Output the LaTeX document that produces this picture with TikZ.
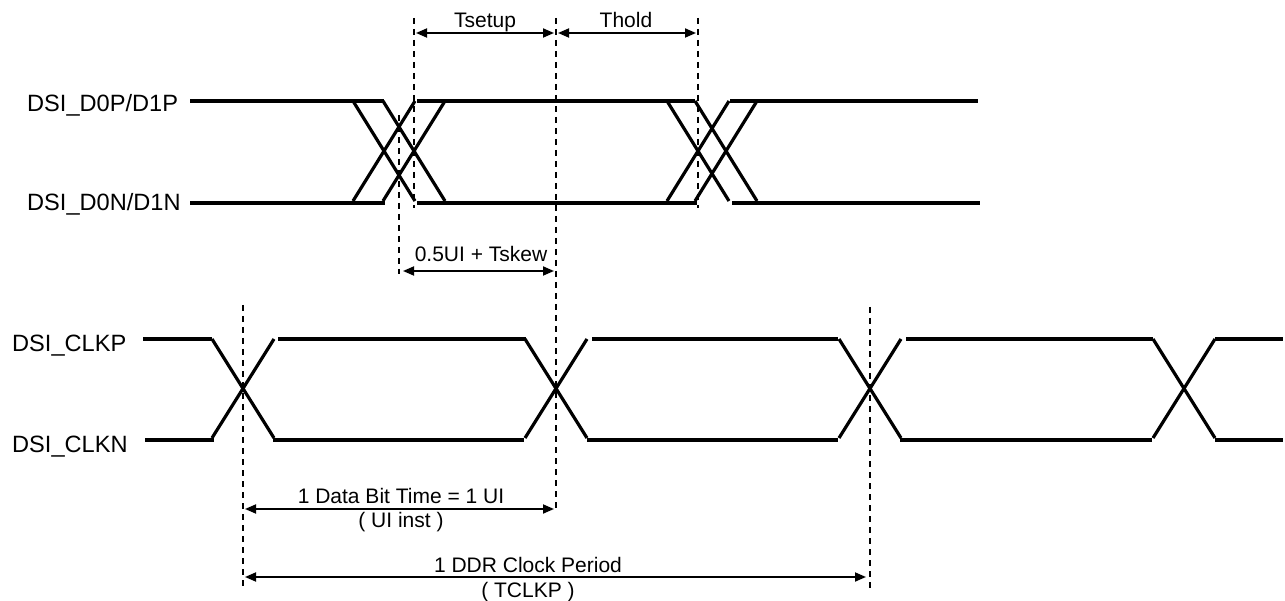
\documentclass[tikz,border=0pt]{standalone}
\usepackage{fontspec}
\setmainfont{Liberation Sans}
\usetikzlibrary{arrows.meta}
\begin{document}
\begin{tikzpicture}[x=1pt,y=-1pt,
  sigline/.style={line width=3.2pt,line cap=butt,line join=miter},
  guideline/.style={line width=1.4pt,dash pattern=on 6pt off 5pt},
  dimarrow/.style={line width=1.8pt,{Triangle[length=11pt,width=9pt]}-{Triangle[length=11pt,width=9pt]},shorten <=2pt,shorten >=2pt},
  signame/.style={font=\fontsize{23.6}{28}\selectfont,anchor=base west,inner sep=0pt},
  annot/.style={font=\fontsize{21}{25}\selectfont,anchor=base,inner sep=0pt}]
\useasboundingbox (0,0) rectangle (1285,601);
% signal names
\node[signame] (dp) at (27,112) {DSI\_D0P/D1P};
\node[signame] (dn) at (27,211) {DSI\_D0N/D1N};
\node[signame] (cp) at (12,352) {DSI\_CLKP};
\node[signame] (cn) at (12,452) {DSI\_CLKN};
% data lines
\draw[sigline] (190,101) -- (384,101);
\draw[sigline] (417,101) -- (695,101);
\draw[sigline] (730,101) -- (978,101);
\draw[sigline] (190,203) -- (385,203);
\draw[sigline] (417,203) -- (697,203);
\draw[sigline] (732,203) -- (980,203);
\foreach \a in {353,383,667,695}{
  \draw[sigline] (\a,101) -- (\a+62,201);
  \draw[sigline] (\a,201) -- (\a+62,101);
}
% clock lines
\foreach \c in {243,556,870,1184}{
  \draw[sigline] (\c-31,339) -- (\c+31,438);
  \draw[sigline] (\c-31,438) -- (\c+31,339);
}
\draw[sigline] (143,339) -- (212,339);
\draw[sigline] (278,339) -- (526,339);
\draw[sigline] (592,339) -- (838,339);
\draw[sigline] (906,339) -- (1153,339);
\draw[sigline] (1215,339) -- (1283,339);
\draw[sigline] (145,440) -- (214,440);
\draw[sigline] (273,440) -- (524,440);
\draw[sigline] (587,440) -- (838,440);
\draw[sigline] (900,440) -- (1152,440);
\draw[sigline] (1215,440) -- (1283,440);
% guide coordinates
\coordinate (g1t) at (399,115); \coordinate (g1b) at (399,274);
\coordinate (g2t) at (414,18);  \coordinate (g2b) at (414,208);
\coordinate (g3t) at (556,18);  \coordinate (g3b) at (556,512);
\coordinate (g4t) at (698,18);  \coordinate (g4b) at (698,208);
\coordinate (g5t) at (243,305); \coordinate (g5b) at (243,590);
\coordinate (g6t) at (870,307); \coordinate (g6b) at (870,590);
\foreach \g in {1,...,6}{\draw[guideline] (g\g t) -- (g\g b);}
% dimension arrows
\coordinate (s1) at (414,33); \coordinate (s2) at (556,33); \coordinate (s3) at (698,33);
\draw[dimarrow] (s1) -- (s2);
\draw[dimarrow] (s2) -- (s3);
\coordinate (k1) at (401,271); \coordinate (k2) at (556,271);
\draw[dimarrow] (k1) -- (k2);
\coordinate (u1) at (243,509); \coordinate (u2) at (556,509);
\draw[dimarrow] (u1) -- (u2);
\coordinate (c1) at (243,577); \coordinate (c2) at (868,577);
\draw[dimarrow] (c1) -- (c2);
% labels
\node[annot] (ts) at (485,28) {Tsetup};
\node[annot] (th) at (626,28) {Thold};
\node[annot] (sk) at (481,262) {0.5UI + Tskew};
\node[annot] (ui) at (401,503) {1 Data Bit Time = 1 UI};
\node[annot] (uii) at (401,527) {( UI inst )};
\node[annot] (ddr) at (528,572) {1 DDR Clock Period};
\node[annot] (tck) at (528,597) {( TCLKP )};
\end{tikzpicture}
\end{document}
